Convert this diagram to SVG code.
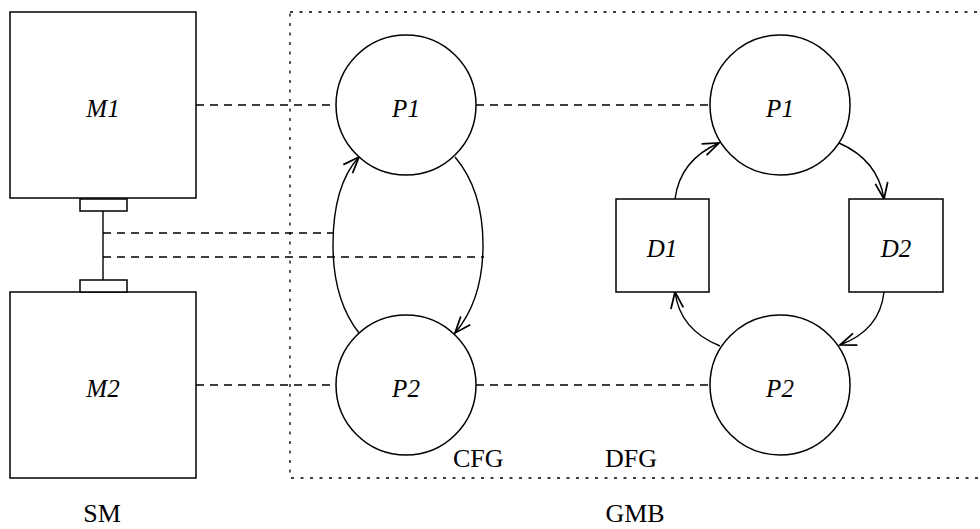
<svg xmlns="http://www.w3.org/2000/svg" width="980" height="529" viewBox="0 0 980 529">
<style>
.box{fill:#fff;stroke:#000;stroke-width:1.5}
.node{fill:#fff;stroke:#000;stroke-width:1.5}
.lbl{font-family:"Liberation Serif","Times New Roman",serif;font-style:italic;font-size:25px;fill:#000;text-anchor:middle}
.cap{font-family:"Liberation Serif","Times New Roman",serif;font-size:26px;fill:#000}
.dash{stroke:#000;stroke-width:1.3;stroke-dasharray:8,6;fill:none}
.edge{stroke:#000;stroke-width:1.4;fill:none;marker-end:url(#arr)}
.plain{stroke:#000;stroke-width:1.4;fill:none}
</style>
<defs>
<marker id="arr" markerUnits="userSpaceOnUse" markerWidth="20" markerHeight="20" viewBox="-14 -8 16 16" refX="0" refY="0" orient="auto">
<path d="M-13,-5 L0,0 L-13,5" fill="none" stroke="#000" stroke-width="1.4"/>
</marker>
</defs>
<rect width="980" height="529" fill="#fff"/>
<rect x="290" y="12" width="700" height="466" fill="none" stroke="#000" stroke-width="1.3" stroke-dasharray="3,6.5"/>
<g id="connectors">
<line class="dash" x1="196" y1="105" x2="336" y2="105"/>
<line class="dash" x1="476" y1="105" x2="710" y2="105"/>
<line class="dash" x1="196" y1="385" x2="336" y2="385"/>
<line class="dash" x1="476" y1="385" x2="710" y2="385"/>
<line class="dash" x1="103" y1="233" x2="333" y2="233"/>
<line class="dash" x1="103" y1="257" x2="484" y2="257"/>
<line class="plain" x1="103" y1="211" x2="103" y2="280"/>
<path class="edge" d="M359,333 Q333,300 333,245 Q333,185 359,157"/>
<path class="edge" d="M455,157 Q483,190 483,245 Q483,300 455,333"/>
<path class="edge" d="M675,199 Q680,160 719,143"/>
<path class="edge" d="M839,143 Q878,160 884,199"/>
<path class="edge" d="M884,292 Q880,330 840,345"/>
<path class="edge" d="M720,346 Q680,330 675,292"/>
</g>
<g id="M1"><rect class="box" x="10" y="12" width="186" height="186"/><text class="lbl" x="103" y="117">M1</text></g>
<g id="M2"><rect class="box" x="10" y="292" width="186" height="186"/><text class="lbl" x="103" y="397">M2</text></g>
<g id="port1"><rect class="box" x="80" y="199" width="47" height="12"/></g>
<g id="port2"><rect class="box" x="80" y="280" width="47" height="12"/></g>
<g id="CFG_P1"><circle class="node" cx="406" cy="105" r="70"/><text class="lbl" x="406" y="117">P1</text></g>
<g id="CFG_P2"><circle class="node" cx="406" cy="385" r="70"/><text class="lbl" x="406" y="397">P2</text></g>
<g id="DFG_P1"><circle class="node" cx="780" cy="105" r="70"/><text class="lbl" x="780" y="117">P1</text></g>
<g id="DFG_P2"><circle class="node" cx="780" cy="385" r="70"/><text class="lbl" x="780" y="397">P2</text></g>
<g id="D1"><rect class="box" x="616" y="199" width="93" height="93"/><text class="lbl" x="662" y="257">D1</text></g>
<g id="D2"><rect class="box" x="849" y="199" width="94" height="93"/><text class="lbl" x="896" y="257">D2</text></g>
<text class="cap" x="453" y="467">CFG</text>
<text class="cap" x="605" y="467">DFG</text>
<text class="cap" x="102" y="522" text-anchor="middle">SM</text>
<text class="cap" x="635" y="522" text-anchor="middle">GMB</text>
</svg>
